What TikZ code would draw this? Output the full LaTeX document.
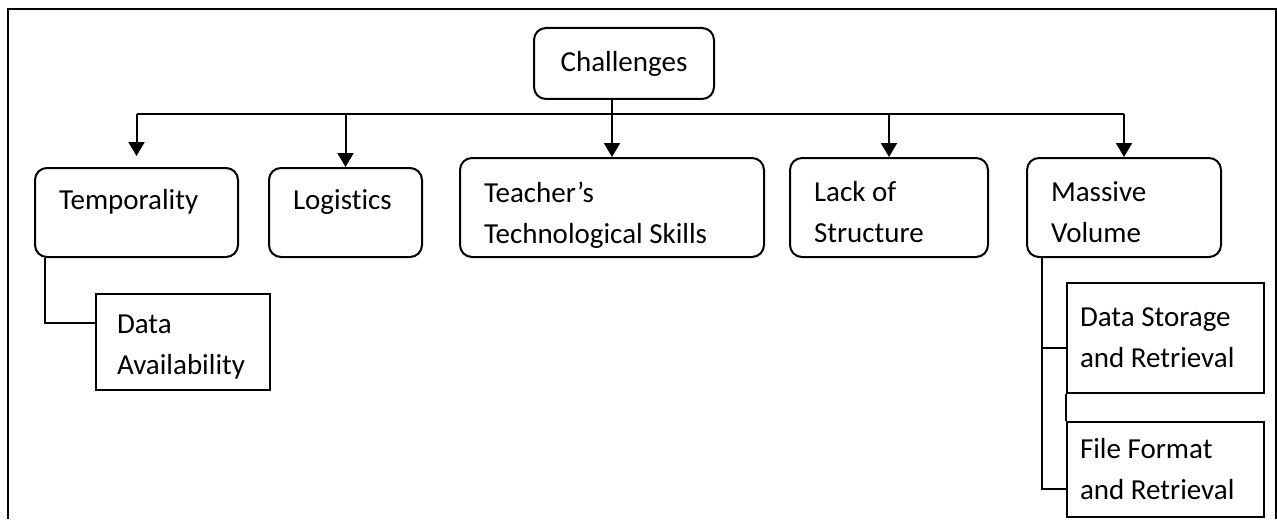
\documentclass[tikz,border=0pt]{standalone}
\usepackage{fontspec}
\setmainfont{Carlito}[Ligatures=NoCommon]
\usetikzlibrary{arrows.meta}
\tikzset{
    pageframe/.style={black,line width=1pt},
    box/.style={draw,line width=1pt,rounded corners=6pt,align=flush left,inner xsep=12pt},
    subbox/.style={draw,line width=1pt,align=flush left,inner xsep=6.5pt},
    myline/.style={black,line width=1pt},
    myarrow/.style={-{Triangle[width=8pt,length=7pt]},black,line width=1pt}
}
\begin{document}
\begin{tikzpicture}[x=0.5pt,y=-0.5pt,font=\fontsize{14.5pt}{20.5pt}\selectfont]
\useasboundingbox (0,0) rectangle (1277,519);
\draw[pageframe] (8,519)--(8,9)--(1276,9)--(1276,519);
\node[box,minimum width=90pt,minimum height=35.5pt] (chal) at (624,63.5) {Challenges};
\node[box,text width=77.5pt,minimum height=44.5pt] (tem) at (136.5,212.5) {\strut Temporality\\[-3pt]~};
\node[box,text width=52.5pt,minimum height=44.5pt] (log) at (345.5,212.5) {\strut Logistics\\[-3pt]~};
\node[box,text width=128pt,minimum height=49.5pt] (teach) at (612,207.5) {\rule{0pt}{17.5pt}Teacher’s\\Technological Skills};
\node[box,text width=75pt,minimum height=49.5pt] (lack) at (889,207.5) {\strut Lack of\\Structure};
\node[box,text width=73pt,minimum height=49.5pt] (mas) at (1124,207.5) {\strut Massive\\Volume};
\node[subbox,inner xsep=10.5pt,text width=66pt,minimum height=48pt] (da) at (183,342) {\strut Data\\Availability};
\node[subbox,text width=85.5pt,minimum height=55pt] (ds) at (1165.5,338) {Data Storage\\and Retrieval};
\node[subbox,text width=85.5pt,minimum height=47.5pt] (ff) at (1165.5,469.5) {File Format\\and Retrieval};
\coordinate (bar) at (0,114);
\coordinate (mv) at ([xshift=8pt]mas.south west);
\draw[myline] (tem.north |- bar)--(mas.north |- bar);
\draw[myline] (chal.south -| teach.north)--(teach.north |- bar);
\draw[myarrow,shorten >=5.5pt] (tem.north |- bar)--(tem.north);
\draw[myarrow] (log.north |- bar)--(log.north);
\draw[myarrow] (teach.north |- bar)--(teach.north);
\draw[myarrow] (lack.north |- bar)--(lack.north);
\draw[myarrow] (mas.north |- bar)--(mas.north);
\draw[myline] ([xshift=5.5pt]tem.south west) |- ([yshift=9.5pt]da.west);
\draw[myline] (mv) |- ([yshift=-9.75pt]ff.west);
\draw[myline] ([yshift=-5pt]ds.west -| mv)--([yshift=-5pt]ds.west);
\draw[myline] (ds.south west)--(ff.north west);
\end{tikzpicture}
\end{document}
